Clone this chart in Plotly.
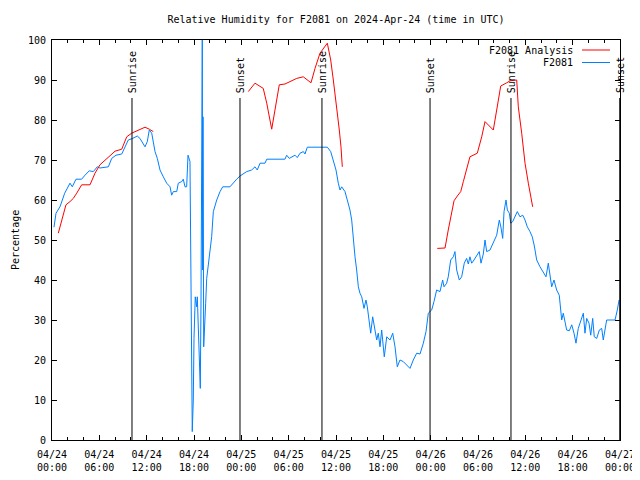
import pandas as pd
import plotly.graph_objects as go

START = pd.Timestamp("2024-04-24 00:00")

# F2081 observations: hours after 2024-04-24 00:00 UTC, relative humidity (%)
blue_hours = [0.25, 0.51, 1.01, 1.52, 1.61, 2.28, 2.57, 3.04, 3.76, 4.18, 4.73, 5.24, 5.74, 6.08, 7.14,
              7.57, 8.11, 8.84, 9.38, 9.67, 10.23, 10.81, 11.15, 11.79, 12.08, 12.33, 12.64, 12.84, 13.06,
              13.35, 13.69, 14.11, 14.54, 14.96, 15.17, 15.38, 15.81, 16.01, 16.44, 16.64, 16.86, 17.07,
              17.24, 17.49, 17.58, 17.71, 17.78, 17.91, 18.0, 18.16, 18.34, 18.42, 18.54, 18.67, 18.80,
              18.89, 18.98, 19.05, 19.10, 19.14, 19.23, 19.36, 19.48, 19.61, 19.81, 20.03, 20.24, 20.45,
              20.88, 21.30, 21.64, 22.56, 22.91, 23.41, 23.83, 24.68, 25.31, 25.73, 26.02, 26.37, 27.0,
              27.22, 29.53, 29.75, 30.08, 30.42, 30.80, 31.09, 31.44, 31.86, 32.07, 32.36, 34.90, 35.33,
              35.66, 36.0, 36.29, 36.51, 36.72, 37.14, 37.43, 37.77, 37.99, 38.19, 38.41, 38.62, 38.83,
              39.04, 39.26, 39.55, 39.80, 39.97, 40.22, 40.40, 40.65, 40.94, 41.16, 41.36, 41.58, 41.79,
              42.0, 42.12, 42.43, 42.85, 43.19, 43.48, 43.77, 44.11, 44.53, 44.96, 45.38, 45.80, 46.23,
              46.65, 47.07, 47.41, 47.70, 47.91, 48.13, 48.42, 48.76, 49.18, 49.52, 49.69, 50.03, 50.23,
              50.54, 50.87, 51.08, 51.30, 51.63, 51.93, 52.26, 52.56, 52.77, 52.98, 53.20, 53.49, 53.83,
              54.16, 54.38, 54.67, 54.89, 55.10, 55.52, 55.94, 56.37, 56.70, 56.88, 57.13, 57.30, 57.55,
              57.72, 57.97, 58.15, 58.40, 58.69, 58.98, 59.32, 59.67, 59.96, 60.25, 60.59, 60.88, 61.14,
              61.44, 61.86, 62.28, 62.62, 62.91, 63.13, 63.34, 63.63, 63.97, 64.30, 64.61, 64.81, 65.03,
              65.24, 65.57, 65.88, 66.17, 66.42, 66.71, 67.02, 67.35, 67.56, 67.78, 68.07, 68.29, 68.54,
              68.74, 69.05, 69.38, 69.68, 69.88, 70.31, 71.37, 71.66, 71.88]
blue_rh = [53.2, 56.7, 58.3, 61.2, 61.7, 64.2, 63.3, 65.2, 65.2, 66.2, 67.3, 67.1, 68.3, 68.0, 68.3,
           70.4, 71.2, 71.5, 73.7, 75.0, 75.4, 76.0, 75.4, 73.3, 74.6, 77.5, 76.7, 74.2, 72.1,
           70.4, 67.5, 65.8, 64.2, 63.3, 61.2, 62.1, 62.1, 64.2, 64.6, 65.2, 63.3, 63.3,
           71.2, 69.6, 51.7, 18.7, 2.1, 10.0, 25.4, 35.8, 33.3, 35.8, 27.1, 17.9, 12.9,
           35.0, 78.3, 100.0, 42.5, 80.8, 23.3, 27.5, 34.2, 40.4, 44.2, 47.5, 50.8, 57.1,
           60.0, 62.1, 63.3, 63.3, 64.2, 65.2, 66.0, 67.1, 67.5, 68.3, 67.5, 69.2, 69.2,
           70.2, 70.2, 71.2, 70.4, 70.8, 71.2, 70.6, 71.7, 72.1, 71.5, 73.2, 73.2, 72.1,
           69.6, 67.5, 64.2, 62.5, 63.3, 62.1, 60.0, 57.5, 55.0, 50.0, 45.8, 42.5, 38.3,
           36.7, 35.8, 32.9, 35.0, 33.3, 30.0, 26.7, 30.8, 27.5, 25.0, 26.7, 23.3, 27.5,
           22.5, 20.8, 25.8, 25.0, 26.7, 23.3, 18.3, 20.0, 19.6, 18.8, 17.9, 20.0, 21.7,
           21.5, 24.2, 27.1, 31.7, 32.1, 32.5, 34.6, 37.5, 37.1, 40.0, 38.3, 39.2, 40.8,
           45.0, 45.8, 47.1, 42.5, 40.0, 40.8, 44.2, 45.4, 44.0, 45.8, 44.2, 45.0, 46.0,
           47.1, 44.2, 46.5, 50.0, 47.1, 47.5, 49.2, 51.2, 55.0, 53.5, 50.4, 57.1, 60.0,
           57.5, 56.7, 54.2, 54.6, 55.8, 57.1, 55.8, 56.2, 55.0, 53.3, 52.1, 50.8, 48.5,
           45.0, 43.3, 41.7, 40.8, 44.2, 40.4, 38.3, 40.0, 37.5, 36.2, 30.0, 31.7, 29.6,
           27.5, 27.3, 28.8, 26.7, 24.2, 27.9, 30.0, 31.7, 26.7, 30.4, 29.2, 26.2, 30.4,
           25.8, 25.4, 27.5, 27.9, 25.0, 30.0, 30.0, 32.5, 35.0]

# F2081 Analysis: three forecast segments (None = gap)
red_hours = [0.80, 1.23, 1.77, 2.28, 2.70, 3.13, 3.76, 4.82, 5.45, 6.08, 6.72, 7.35, 7.99, 8.84, 9.47,
             10.10, 10.94, 11.79, 12.33, 12.84, None,
             24.88, 25.73, 26.78, 27.22, 27.85, 28.81, 29.53, 30.17, 31.02, 31.86, 32.29, 32.83, 33.34,
             33.97, 34.90, 35.33, 35.66, 36.0, 36.16, 36.42, 36.63, 36.80, None,
             48.84, 49.82, 50.23, 50.67, 50.96, 51.38, 51.81, 52.14, 52.98, 53.91, 54.47, 54.89, 55.94,
             56.37, 56.88, 57.64, 58.06, 58.91, 59.11, 59.54, 59.96, 60.38, 60.93]
red_rh = [51.7, 55.0, 58.8, 59.6, 60.4, 61.7, 63.8, 63.8, 66.7, 68.8, 70.0, 71.2, 72.2, 72.7, 75.8,
          76.7, 77.5, 78.2, 77.7, 77.1, None,
          87.1, 89.2, 87.9, 84.2, 77.7, 88.8, 89.0, 89.6, 90.4, 90.8, 90.2, 89.3, 92.9,
          96.7, 99.2, 95.0, 90.0, 85.0, 81.7, 77.5, 73.3, 68.3, None,
          47.9, 48.0, 52.5, 57.1, 59.8, 61.0, 62.1, 64.6, 70.8, 71.7, 75.8, 79.6, 77.5,
          82.5, 88.5, 89.3, 89.8, 90.0, 83.3, 76.7, 69.2, 64.2, 58.3]

event_labels = ["Sunrise", "Sunset", "Sunrise", "Sunset", "Sunrise", "Sunset"]
event_hours = [10.14, 23.83, 34.22, 47.92, 58.18, 71.97]

tick_hours = list(range(0, 73, 6))
tick_text = ["04/24<br>00:00", "04/24<br>06:00", "04/24<br>12:00", "04/24<br>18:00",
             "04/25<br>00:00", "04/25<br>06:00", "04/25<br>12:00", "04/25<br>18:00",
             "04/26<br>00:00", "04/26<br>06:00", "04/26<br>12:00", "04/26<br>18:00",
             "04/27<br>00:00"]
y_ticks = list(range(0, 101, 10))

series_names = ["F2081 Analysis", "F2081"]
series_colors = ["#ff0000", "#0080ff"]


def to_time(hours):
    return [START + pd.Timedelta(hours=h) if h is not None else None for h in hours]


FONT = "DejaVu Sans Mono"
# The page body has an 8px margin, so the figure is 632x472 and sits at (8, 8).
W, H = 632, 472
ML, MT, MR, MB = 44, 32, 20, 40
PW = W - ML - MR
PH = H - MT - MB

fig = go.Figure()
fig.add_trace(go.Scatter(x=to_time(blue_hours), y=blue_rh, mode="lines", name=series_names[1],
                         line=dict(color=series_colors[1], width=1), connectgaps=False))
fig.add_trace(go.Scatter(x=to_time(red_hours), y=red_rh, mode="lines", name=series_names[0],
                         line=dict(color=series_colors[0], width=1), connectgaps=False))

shapes = []
annotations = []
for lab, h in zip(event_labels, event_hours):
    t = START + pd.Timedelta(hours=h)
    shapes.append(dict(type="line", xref="x", yref="y", x0=t, x1=t, y0=0, y1=85.5,
                       line=dict(color="black", width=1)))
    annotations.append(dict(x=t, y=86.2, xref="x", yref="y", text=lab, showarrow=False,
                            textangle=-90, xanchor="center", yanchor="bottom",
                            font=dict(family=FONT, size=10, color="black")))

# legend (gnuplot style: text right-aligned, sample line to the right)
for i, (nm, col) in enumerate(zip(series_names, series_colors)):
    ypix = 10 + i * 12.5          # pixels below top of plot area
    yp = 1 - ypix / PH
    annotations.append(dict(x=523 / PW, y=yp, xref="paper", yref="paper", text=nm,
                            showarrow=False, xanchor="right", yanchor="middle",
                            font=dict(family=FONT, size=10, color="black")))
    shapes.append(dict(type="line", xref="paper", yref="paper",
                       x0=530 / PW, x1=558 / PW, y0=yp, y1=yp,
                       line=dict(color=col, width=1)))

annotations.append(dict(x=-37 / PW, y=0.5, xref="paper", yref="paper", text="Percentage",
                        showarrow=False, textangle=-90, xanchor="center", yanchor="middle",
                        font=dict(family=FONT, size=10, color="black")))

fig.update_layout(
    width=W, height=H,
    margin=dict(l=ML, r=MR, t=MT, b=MB, pad=0, autoexpand=False),
    paper_bgcolor="white", plot_bgcolor="white",
    showlegend=False,
    title=dict(text="Relative Humidity for F2081 on 2024-Apr-24 (time in UTC)",
               x=0.5, xref="paper", xanchor="center", y=1 - 11 / H, yanchor="middle",
               font=dict(family=FONT, size=10, color="black")),
    font=dict(family=FONT, size=10, color="black"),
    shapes=shapes, annotations=annotations,
    xaxis=dict(type="date", range=[START, START + pd.Timedelta(hours=72)], automargin=False,
               tickmode="array", tickvals=to_time(tick_hours), ticktext=tick_text,
               ticks="inside", ticklen=5, tickcolor="black", showgrid=False, zeroline=False,
               showline=True, linecolor="black", linewidth=1, mirror="ticks",
               ticklabelstandoff=5,
               minor=dict(dtick=2 * 3600 * 1000, tick0=START, ticks="inside", ticklen=3,
                          tickcolor="black", showgrid=False),
               tickfont=dict(family=FONT, size=10, color="black")),
    yaxis=dict(range=[0, 100], tickmode="array", tickvals=y_ticks, automargin=False,
               ticks="inside", ticklen=5, tickcolor="black", showgrid=False, zeroline=False,
               showline=True, linecolor="black", linewidth=1, mirror="ticks",
               ticklabelstandoff=3,
               tickfont=dict(family=FONT, size=10, color="black")),
)

fig.write_html("out.html")
